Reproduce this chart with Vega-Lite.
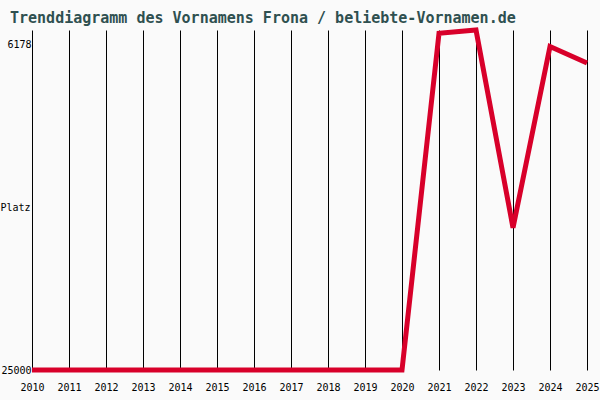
{
  "$schema": "https://vega.github.io/schema/vega-lite/v6.json",
  "width": 555,
  "height": 340,
  "autosize": "none",
  "padding": {"left": 32, "top": 30, "right": 13, "bottom": 30},
  "background": "#fafafa",
  "title": {
    "text": "Trenddiagramm des Vornamens Frona / beliebte-Vornamen.de",
    "anchor": "start",
    "frame": "group",
    "dx": -22,
    "dy": 25,
    "offset": 7,
    "baseline": "alphabetic",
    "font": "DejaVu Sans Mono",
    "fontSize": 15,
    "fontWeight": "bold",
    "color": "#2f5050"
  },
  "data": {
    "values": [
      {"year": 2010, "rank": 25000},
      {"year": 2011, "rank": 25000},
      {"year": 2012, "rank": 25000},
      {"year": 2013, "rank": 25000},
      {"year": 2014, "rank": 25000},
      {"year": 2015, "rank": 25000},
      {"year": 2016, "rank": 25000},
      {"year": 2017, "rank": 25000},
      {"year": 2018, "rank": 25000},
      {"year": 2019, "rank": 25000},
      {"year": 2020, "rank": 25000},
      {"year": 2021, "rank": 5540},
      {"year": 2022, "rank": 5350},
      {"year": 2023, "rank": 16780},
      {"year": 2024, "rank": 6300},
      {"year": 2025, "rank": 7260}
    ]
  },
  "mark": {"type": "line", "color": "#d8002a", "strokeWidth": 5, "clip": false},
  "encoding": {
    "x": {
      "field": "year",
      "type": "quantitative",
      "scale": {"domain": [2010, 2025], "nice": false, "zero": false},
      "axis": {
        "title": null,
        "values": [2010, 2011, 2012, 2013, 2014, 2015, 2016, 2017, 2018, 2019, 2020, 2021, 2022, 2023, 2024, 2025],
        "format": "d",
        "domain": false,
        "ticks": false,
        "tickSize": 0,
        "grid": true,
        "gridColor": "#000000",
        "gridOpacity": 1,
        "gridWidth": 1,
        "labelFont": "DejaVu Sans Mono",
        "labelFontSize": 10,
        "labelColor": "#000000",
        "labelBaseline": "middle",
        "labelPadding": 17,
        "labelDx": -6,
        "labelFlush": false,
        "labelOverlap": false
      }
    },
    "y": {
      "field": "rank",
      "type": "quantitative",
      "scale": {"domain": [5350, 25000], "reverse": true, "nice": false, "zero": false},
      "axis": {
        "title": "Platz",
        "titleAngle": 0,
        "titleAlign": "left",
        "titleBaseline": "middle",
        "titleX": -32,
        "titleY": 177,
        "titleFont": "DejaVu Sans Mono",
        "titleFontSize": 10,
        "titleFontWeight": "normal",
        "titleColor": "#000000",
        "values": [6178, 25000],
        "format": "d",
        "domain": false,
        "ticks": false,
        "tickSize": 0,
        "grid": false,
        "labelFont": "DejaVu Sans Mono",
        "labelFontSize": 10,
        "labelColor": "#000000",
        "labelBaseline": "middle",
        "labelPadding": 1,
        "labelDy": -2,
        "labelFlush": false,
        "labelOverlap": false
      }
    }
  },
  "config": {
    "view": {"stroke": null}
  }
}
